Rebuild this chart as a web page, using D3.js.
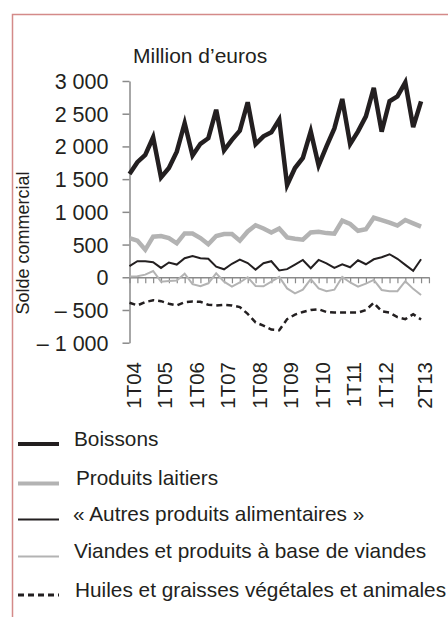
<!DOCTYPE html>
<html>
<head>
<meta charset="utf-8">
<script src="https://cdn.jsdelivr.net/npm/d3@7"></script>
<style>
  body { margin: 0; background: #fff; }
  svg { display: block; font-family: "Liberation Sans", Arial, sans-serif; }
</style>
</head>
<body>
<svg id="chart" width="448" height="617"></svg>
<script>
// Quarterly trade balance, 1T04 .. 2T13 (million euros)
const quarters = [];
for (let y = 4; y <= 13; y += 1) {
  for (let q = 1; q <= 4; q += 1) {
    if (y === 13 && q > 2) break;
    quarters.push(q + "T" + String(y).padStart(2, "0"));
  }
}
const tickLabels = ["1T04", "1T05", "1T06", "1T07", "1T08", "1T09", "1T10", "1T11", "1T12", "2T13"];
const yTicks = [3000, 2500, 2000, 1500, 1000, 500, 0, -500, -1000];

const boissons = [1580, 1760, 1870, 2140, 1525, 1670, 1920, 2355, 1860, 2040, 2125, 2560,
  1940, 2100, 2240, 2675, 2035, 2155, 2215, 2410, 1410, 1670, 1825, 2230,
  1710, 2000, 2275, 2725, 2035, 2230, 2460, 2895, 2225, 2690, 2765, 2980, 2295, 2690];
const laitiers = [600, 560, 420, 620, 630, 600, 520, 670, 670, 600, 505, 630,
  660, 660, 560, 700, 795, 745, 685, 745, 610, 590, 575, 685,
  695, 675, 665, 865, 815, 710, 735, 910, 875, 835, 790, 875, 825, 775];
const autres = [170, 245, 245, 230, 143, 226, 194, 291, 326, 291, 284, 163,
  122, 206, 270, 218, 117, 214, 245, 104, 124, 195, 265, 138,
  265, 214, 143, 199, 153, 260, 199, 275, 306, 352, 283, 189, 98, 275];
const viandes = [10, 15, 40, 96, -67, -58, -48, 55, -105, -138, -92, 60,
  -67, -143, -80, 0, -133, -138, -67, 5, -170, -245, -190, -28,
  -169, -212, -190, 5, -80, -143, -97, -41, -194, -212, -212, -60, -177, -270];
const huiles = [-390, -430, -380, -350, -365, -405, -430, -380, -370, -375, -420, -430,
  -420, -430, -455, -560, -690, -740, -800, -810, -640, -570, -530, -500,
  -490, -530, -540, -540, -540, -540, -500, -390, -520, -540, -610, -640, -565, -645];

const seriesNames = ["Boissons", "Produits laitiers", "« Autres produits alimentaires »",
  "Viandes et produits à base de viandes", "Huiles et graisses végétales et animales"];

const ink = "#231f20";
const grey = "#b3b3b3";
const styles = [
  { color: ink, width: 4.5, dash: null },
  { color: grey, width: 4.5, dash: null },
  { color: ink, width: 2, dash: null },
  { color: grey, width: 2, dash: null },
  { color: ink, width: 2.5, dash: "6,4" }
];
const allSeries = [boissons, laitiers, autres, viandes, huiles];

const svg = d3.select("#chart");

// frame (top and left edges only are visible)
svg.append("path")
  .attr("d", "M12.5,617 V14.5 H448")
  .attr("fill", "none")
  .attr("stroke", "#d48a89")
  .attr("stroke-width", 1.5);

const x = d3.scaleLinear().domain([0, quarters.length]).range([129.5, 129.5 + 38 * 7.88]);
const y = d3.scaleLinear().domain([-1000, 3000]).range([342.7, 81]);

const fmt = v => {
  const s = d3.format(",")(Math.abs(v)).replace(/,/g, "\u00a0");
  return v < 0 ? "–\u00a0" + s : s;
};

// y axis
const yAxis = svg.append("g")
  .attr("transform", `translate(${x(0)},0)`)
  .call(d3.axisLeft(y).tickValues(yTicks).tickSize(7).tickPadding(14).tickFormat(fmt).tickSizeOuter(0));
yAxis.select(".domain").attr("stroke", "#8a8a8a").attr("stroke-width", 1.5);
yAxis.selectAll(".tick line").attr("stroke", "#8a8a8a").attr("stroke-width", 1.5);
yAxis.selectAll(".tick text")
  .attr("fill", ink)
  .style("font-size", "21.5px")
  .attr("dy", "0.35em");

// x axis on zero line
const xAxis = svg.append("g")
  .attr("transform", `translate(0,${y(0)})`)
  .call(d3.axisBottom(x).tickValues(d3.range(0, quarters.length + 1)).tickSize(6).tickFormat("").tickSizeOuter(0));
xAxis.select(".domain").attr("stroke", "#8a8a8a").attr("stroke-width", 1.5);
xAxis.selectAll(".tick line").attr("stroke", "#8a8a8a").attr("stroke-width", 1.2);

// rotated quarter labels
svg.append("g")
  .selectAll("text")
  .data(tickLabels)
  .join("text")
  .attr("transform", d => `translate(${x(quarters.indexOf(d)) + 4 + 7.3},362) rotate(-90)`)
  .attr("text-anchor", "end")
  .attr("fill", ink)
  .style("font-size", "20.5px")
  .text(d => d);

// lines
const line = d3.line()
  .x((d, i) => x(i))
  .y(d => y(d));

allSeries.forEach((data, i) => {
  svg.append("path")
    .datum(data)
    .attr("fill", "none")
    .attr("stroke", styles[i].color)
    .attr("stroke-width", styles[i].width)
    .attr("stroke-linejoin", "miter")
    .attr("stroke-dasharray", styles[i].dash)
    .attr("d", line);
});

// titles
svg.append("text")
  .attr("x", 133)
  .attr("y", 63)
  .attr("fill", ink)
  .style("font-size", "21px")
  .text("Million d’euros");

svg.append("text")
  .attr("transform", "translate(29,243) rotate(-90)")
  .attr("text-anchor", "middle")
  .attr("fill", ink)
  .style("font-size", "18px")
  .text("Solde commercial");

// legend
const legendRows = [445.5, 485, 521, 558, 596.5];
const legend = svg.append("g");
seriesNames.forEach((name, i) => {
  legend.append("line")
    .attr("x1", 18).attr("x2", 59)
    .attr("y1", legendRows[i] - 1.5).attr("y2", legendRows[i] - 1.5)
    .attr("stroke", styles[i].color)
    .attr("stroke-width", i < 2 ? 4 : (i === 4 ? 3 : 2))
    .attr("stroke-dasharray", styles[i].dash);
  legend.append("text")
    .attr("x", [74, 76, 73, 74, 75][i])
    .attr("y", legendRows[i])
    .attr("fill", ink)
    .style("font-size", "20.8px")
    .text(name);
});
</script>
</body>
</html>
